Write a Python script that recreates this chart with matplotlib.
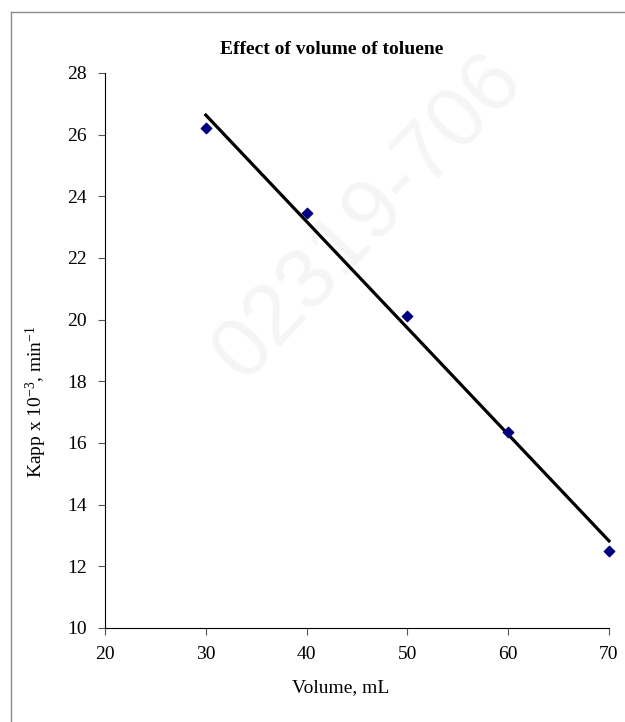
import matplotlib.pyplot as plt
from matplotlib.lines import Line2D
import numpy as np

# Rate constant vs. toluene volume
volume_ml = [30, 40, 50, 60, 70]
kapp = [26.22, 23.45, 20.12, 16.36, 12.50]
x_ticks = [20, 30, 40, 50, 60, 70]
y_ticks = [10, 12, 14, 16, 18, 20, 22, 24, 26, 28]

plt.rcParams['font.family'] = 'Liberation Serif'
plt.rcParams['mathtext.fontset'] = 'custom'
plt.rcParams['mathtext.rm'] = 'Liberation Serif'
plt.rcParams['mathtext.default'] = 'rm'

fig = plt.figure(figsize=(6.25, 7.22), dpi=100)
ax = fig.add_axes([0.168, 0.1302, 0.8064, 0.7687])
ax.set_zorder(1)
ax.patch.set_alpha(0)

# faint watermark behind everything
fig.text(0.59, 0.70, '02319-706', fontsize=62, color='#f5f5f5', rotation=47,
         ha='center', va='center', zorder=0, family='Liberation Sans')

# page frame (top and left edges)
fig.add_artist(Line2D([11 / 625, 1.0], [1 - 12 / 722, 1 - 12 / 722], color='#8c8c8c', lw=1.0))
fig.add_artist(Line2D([11 / 625, 11 / 625], [0, 1 - 12 / 722], color='#8c8c8c', lw=1.0))

ax.scatter(volume_ml, kapp, marker='D', s=28, color='#000080', zorder=3, clip_on=False)

# linear trendline over the measured range
coef = np.polyfit(volume_ml, kapp, 1)
xs = np.array([volume_ml[0], volume_ml[-1]])
ax.plot(xs, np.polyval(coef, xs), color='black', lw=2.3, zorder=2, clip_on=False)

ax.set_xlim(20, 70)
ax.set_ylim(10, 28)
ax.set_xticks(x_ticks)
ax.set_yticks(y_ticks)
ax.spines['top'].set_visible(False)
ax.spines['right'].set_visible(False)
ax.tick_params(direction='out', length=5, width=0.8, labelsize=14, color='#555555')
ax.tick_params(axis='y', pad=8)
ax.tick_params(axis='x', pad=8)

ax.set_xlabel('Volume, mL', fontsize=14, va='top')
ax.xaxis.set_label_coords(0.468, -0.092)
ax.set_ylabel('Kapp x 10$^{-3}$, min$^{-1}$', fontsize=14, va='center')
ax.yaxis.set_label_coords(-0.137, 0.407)
fig.text(332 / 625, 1 - 50 / 722, 'Effect of volume of toluene', fontsize=14,
         fontweight='bold', ha='center', va='center')

fig.savefig('out.png', dpi=100)
